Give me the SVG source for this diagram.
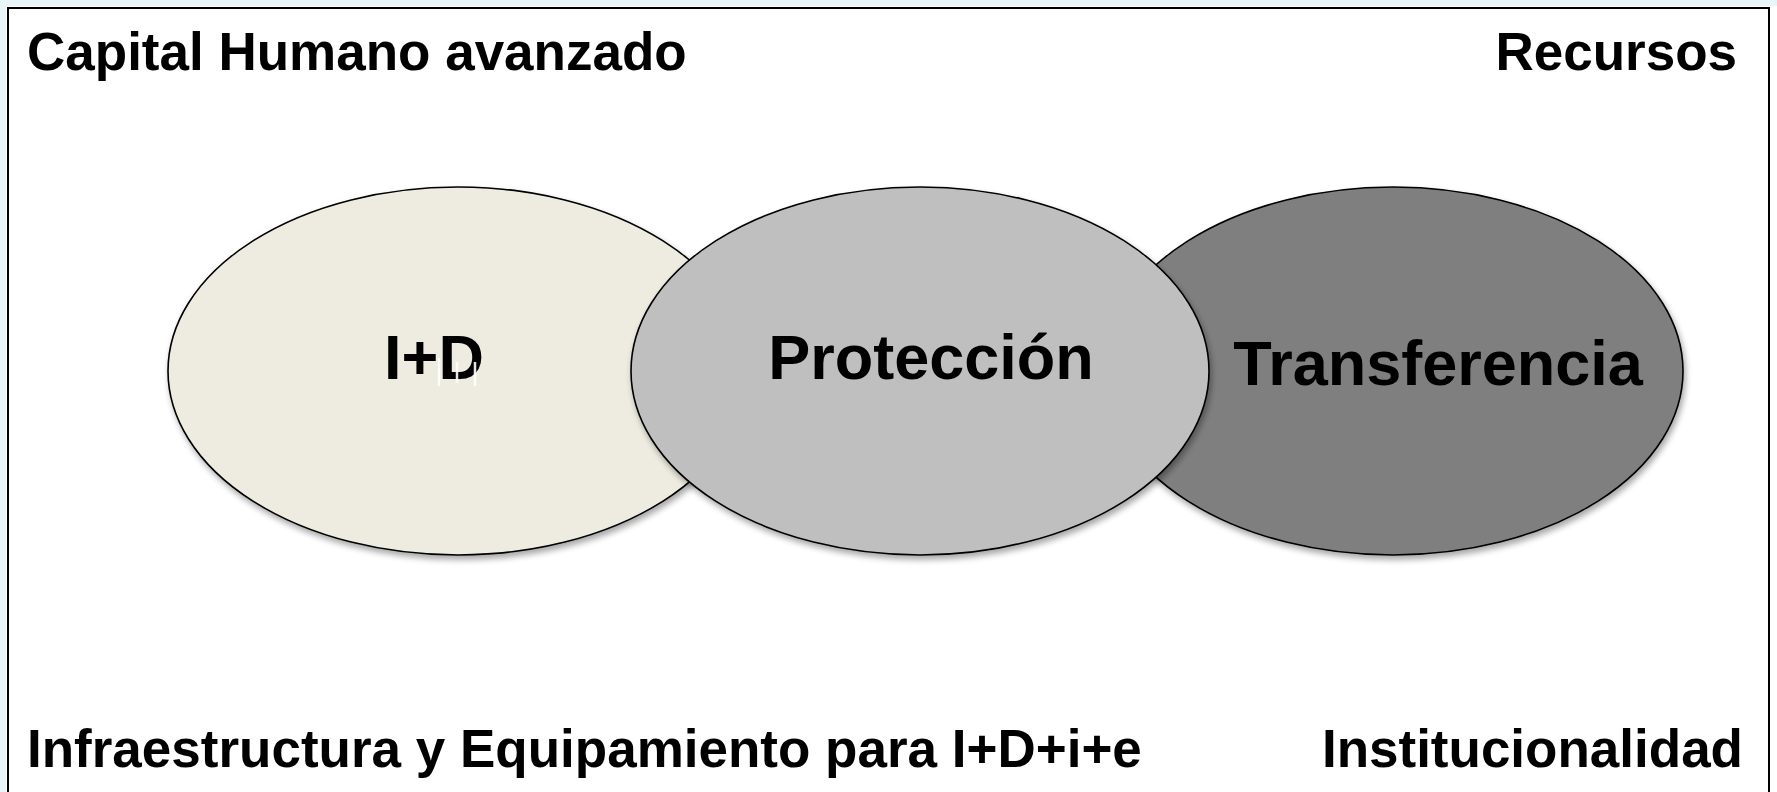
<svg xmlns="http://www.w3.org/2000/svg" width="1777" height="792" viewBox="0 0 1777 792">
  <style>
    .lbl { font-family: "Liberation Sans", Arial, sans-serif; font-weight: bold; fill: #000; font-size: 53px; }
    .node text { font-family: "Liberation Sans", Arial, sans-serif; font-weight: bold; fill: #000; font-size: 63px; text-anchor: middle; }
    .node ellipse { stroke: #000; stroke-width: 1.6; filter: url(#shadow); }
  </style>
  <defs>
    <filter id="shadow" x="-10%" y="-10%" width="125%" height="130%">
      <feGaussianBlur in="SourceAlpha" stdDeviation="3"/>
      <feOffset dx="2" dy="4" result="b"/>
      <feComponentTransfer><feFuncA type="linear" slope="0.35"/></feComponentTransfer>
      <feMerge><feMergeNode/><feMergeNode in="SourceGraphic"/></feMerge>
    </filter>
  </defs>
  <rect x="0" y="0" width="1777" height="792" fill="#ffffff"/>
  <g id="background" fill="#e4f3f7" opacity="0.8">
    <rect x="0" y="0" width="1777" height="6"/>
    <rect x="0" y="0" width="6" height="792"/>
  </g>
  <rect id="frame" x="8" y="8" width="1761" height="800" fill="#ffffff" stroke="#000" stroke-width="2"/>
  <g id="corner-labels">
    <text class="lbl" x="27" y="70">Capital Humano avanzado</text>
    <text class="lbl" x="1737" y="70" text-anchor="end">Recursos</text>
    <text class="lbl" x="27" y="767">Infraestructura y Equipamiento para I+D+i+e</text>
    <text class="lbl" x="1743" y="767" text-anchor="end">Institucionalidad</text>
  </g>
  <g id="connectors"></g>
  <g id="node-id" class="node">
    <ellipse cx="458" cy="371" rx="290" ry="184" fill="#EEECE1"/>
    <text x="434" y="379">I+D</text>
    <g stroke="#ffffff" stroke-width="2.5" opacity="0.9">
      <line x1="439" y1="358" x2="439" y2="386"/>
      <line x1="457" y1="362" x2="457" y2="383"/>
      <line x1="475" y1="362" x2="475" y2="386"/>
    </g>
  </g>
  <g id="node-transferencia" class="node">
    <ellipse cx="1393" cy="371" rx="290" ry="184" fill="#7F7F7F"/>
    <text x="1438" y="385">Transferencia</text>
  </g>
  <g id="node-proteccion" class="node">
    <ellipse cx="920" cy="371" rx="289" ry="184" fill="#BFBFBF"/>
    <text x="931" y="379">Protección</text>
  </g>
</svg>
